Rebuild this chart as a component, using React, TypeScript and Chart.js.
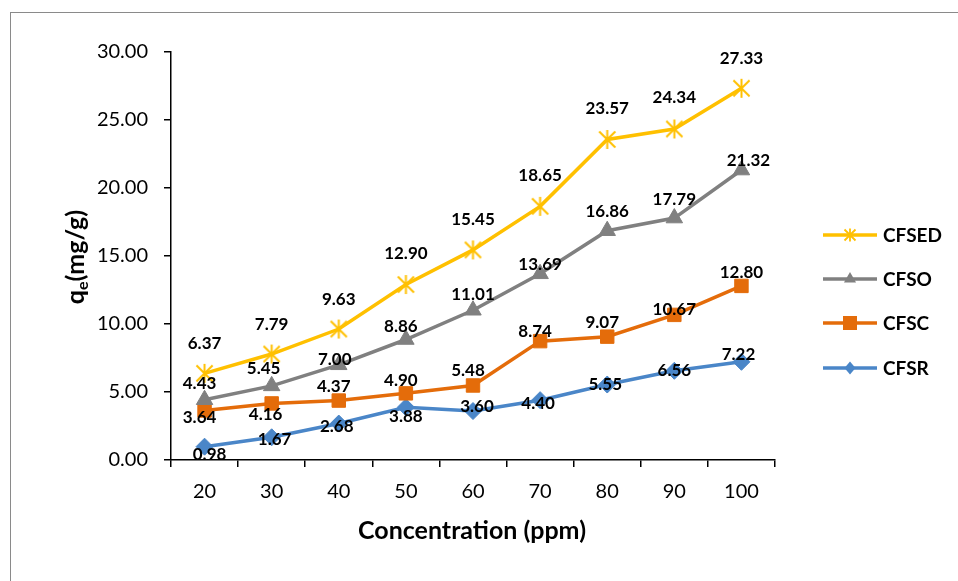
import React, { useEffect, useRef } from 'react';
import { Chart, registerables } from 'chart.js';

Chart.register(...registerables);

// ---- data ----
const categories = ['20', '30', '40', '50', '60', '70', '80', '90', '100'];
const seriesNames = ['CFSED', 'CFSO', 'CFSC', 'CFSR'];
const cfsed = [6.37, 7.79, 9.63, 12.9, 15.45, 18.65, 23.57, 24.34, 27.33];
const cfso = [4.43, 5.45, 7.0, 8.86, 11.01, 13.69, 16.86, 17.79, 21.32];
const cfsc = [3.64, 4.16, 4.37, 4.9, 5.48, 8.74, 9.07, 10.67, 12.8];
const cfsr = [0.98, 1.67, 2.68, 3.88, 3.6, 4.4, 5.55, 6.56, 7.22];
const yMin = 0;
const yMax = 30;
const yStep = 5;

// ---- styling ----
const colors = ['#FFC000', '#808080', '#E46C0A', '#4A86C8'];
const FONT = 'Lato, "Open Sans", sans-serif';

// label offsets (dx, dy) relative to each point
const offED = [[0, -30], [0, -30], [0, -30], [0, -31], [0, -30], [0, -31], [0, -31], [0, -31], [0, -30]];
const offSO = [[-5, -16], [-8, -17], [-4, -5], [-5, -13], [0, -16], [0, -9], [0, -19], [0, -19], [7, -10]];
const offSC = [[-5, 7], [-6, 11], [-5, -14], [-5, -13], [-5, -15], [-5, -10], [-5, -14], [0, -5], [0, -13]];
const offSR = [[5, 8], [3, 2], [-2, 3], [0, 9], [4, -5], [-2, 3], [-2, 0], [0, 0], [-3, -7]];
const labelOffsets = [offED, offSO, offSC, offSR];

function makeStar(size: number, color: string, lw: number): HTMLCanvasElement {
  const c = document.createElement('canvas');
  c.width = size;
  c.height = size;
  const ctx = c.getContext('2d')!;
  ctx.strokeStyle = color;
  ctx.lineWidth = lw;
  ctx.lineCap = 'butt';
  const m = size / 2;
  const h = size / 2 - 1;
  ctx.beginPath();
  ctx.moveTo(m, m - h);
  ctx.lineTo(m, m + h);
  const d = h * 0.85;
  ctx.moveTo(m - d, m - d);
  ctx.lineTo(m + d, m + d);
  ctx.moveTo(m + d, m - d);
  ctx.lineTo(m - d, m + d);
  ctx.stroke();
  return c;
}

function drawMarker(ctx: CanvasRenderingContext2D, kind: number, x: number, y: number, color: string) {
  ctx.save();
  ctx.fillStyle = color;
  ctx.strokeStyle = color;
  if (kind === 0) {
    ctx.lineWidth = 1.8;
    const h = 6.5;
    const d = 5.5;
    ctx.beginPath();
    ctx.moveTo(x, y - h);
    ctx.lineTo(x, y + h);
    ctx.moveTo(x - d, y - d);
    ctx.lineTo(x + d, y + d);
    ctx.moveTo(x + d, y - d);
    ctx.lineTo(x - d, y + d);
    ctx.stroke();
  } else if (kind === 1) {
    const r = 7;
    ctx.beginPath();
    ctx.moveTo(x, y - r);
    ctx.lineTo(x + r * 0.866, y + r * 0.5);
    ctx.lineTo(x - r * 0.866, y + r * 0.5);
    ctx.closePath();
    ctx.fill();
  } else if (kind === 2) {
    ctx.fillRect(x - 7, y - 7, 14, 14);
  } else {
    ctx.beginPath();
    ctx.moveTo(x, y - 6.5);
    ctx.lineTo(x + 5.5, y);
    ctx.lineTo(x, y + 6.5);
    ctx.lineTo(x - 5.5, y);
    ctx.closePath();
    ctx.fill();
  }
  ctx.restore();
}

const decorPlugin = {
  id: 'decor',
  beforeDraw(chart: any) {
    const ctx = chart.ctx as CanvasRenderingContext2D;
    ctx.save();
    ctx.fillStyle = '#ffffff';
    ctx.fillRect(0, 0, chart.width, chart.height);
    ctx.strokeStyle = '#8a8a8a';
    ctx.lineWidth = 1;
    ctx.strokeRect(10.5, 12.5, 3000, 3000);
    ctx.restore();
  },
  afterDatasetsDraw(chart: any) {
    const ctx = chart.ctx as CanvasRenderingContext2D;
    ctx.save();
    ctx.fillStyle = '#000';
    ctx.font = `bold 17px ${FONT}`;
    ctx.textAlign = 'center';
    ctx.textBaseline = 'middle';
    chart.data.datasets.forEach((ds: any, di: number) => {
      const meta = chart.getDatasetMeta(di);
      meta.data.forEach((pt: any, i: number) => {
        const v = ds.data[i] as number;
        const off = labelOffsets[di][i];
        ctx.fillText(v.toFixed(2), pt.x + off[0], pt.y + off[1]);
      });
    });
    ctx.restore();
  },
  afterDraw(chart: any) {
    const ctx = chart.ctx as CanvasRenderingContext2D;
    const area = chart.chartArea;
    ctx.save();
    ctx.fillStyle = '#000';
    // x title
    ctx.font = `bold 25px ${FONT}`;
    ctx.textAlign = 'center';
    ctx.textBaseline = 'middle';
    ctx.fillText('Concentration (ppm)', 472, 531);
    // y title with subscript
    ctx.save();
    ctx.translate(76, 257);
    ctx.rotate(-Math.PI / 2);
    const big = `bold 25px ${FONT}`;
    const small = `bold 16px ${FONT}`;
    ctx.font = big;
    const wq = ctx.measureText('q').width;
    const wr = ctx.measureText('(mg/g)').width;
    ctx.font = small;
    const we = ctx.measureText('e').width;
    const total = wq + we + wr;
    let x = -total / 2;
    ctx.textAlign = 'left';
    ctx.textBaseline = 'alphabetic';
    ctx.font = big;
    ctx.fillText('q', x, 8);
    x += wq;
    ctx.font = small;
    ctx.fillText('e', x, 12);
    x += we;
    ctx.font = big;
    ctx.fillText('(mg/g)', x, 8);
    ctx.restore();
    // legend
    const ly = [235, 279, 323, 368];
    chart.data.datasets.forEach((ds: any, di: number) => {
      const y = ly[di];
      ctx.strokeStyle = ds.borderColor;
      ctx.lineWidth = 3.5;
      ctx.beginPath();
      ctx.moveTo(823, y);
      ctx.lineTo(877, y);
      ctx.stroke();
      drawMarker(ctx, di, 850, y, ds.borderColor);
      ctx.fillStyle = '#000';
      ctx.font = `bold 19px ${FONT}`;
      ctx.textAlign = 'left';
      ctx.textBaseline = 'middle';
      ctx.fillText(ds.label, 883, y + 1);
    });
    ctx.restore();
  },
};

export default function App() {
  const ref = useRef<HTMLCanvasElement | null>(null);
  useEffect(() => {
    document.body.style.margin = '0';
    const canvas = ref.current!;
    const star = makeStar(21, colors[0], 2);
    const series = [cfsed, cfso, cfsc, cfsr];
    const styles: any[] = [star, 'triangle', 'rect', 'rectRot'];
    const radii = [10, 9.5, 9.5, 8.5];
    const chart = new Chart(canvas, {
      type: 'line',
      data: {
        labels: categories,
        datasets: series.map((d, i) => ({
          label: seriesNames[i],
          data: d,
          borderColor: colors[i],
          backgroundColor: colors[i],
          borderWidth: 3.5,
          pointStyle: styles[i],
          pointRadius: radii[i],
          pointHoverRadius: radii[i],
          pointBackgroundColor: colors[i],
          pointBorderColor: colors[i],
          pointBorderWidth: 1,
          tension: 0,
          fill: false,
        })),
      },
      options: {
        responsive: false,
        animation: false,
        events: [],
        layout: { padding: { top: 52, right: 183, left: 0, bottom: 0 } },
        plugins: {
          legend: { display: false },
          tooltip: { enabled: false },
          title: { display: false },
        },
        scales: {
          x: {
            type: 'category',
            offset: true,
            grid: {
              display: true,
              drawOnChartArea: false,
              drawTicks: true,
              tickLength: 7,
              color: '#000',
              lineWidth: 1.5,
              offset: true,
            },
            border: { display: true, color: '#000', width: 1.5 },
            ticks: {
              color: '#000',
              font: { family: FONT, size: 20 },
              padding: 13,
              maxRotation: 0,
              autoSkip: false,
            },
            afterFit: (s: any) => {
              s.height = 121;
            },
          },
          y: {
            min: yMin,
            max: yMax,
            grid: {
              display: true,
              drawOnChartArea: false,
              drawTicks: true,
              tickLength: 7,
              color: '#000',
              lineWidth: 1.5,
            },
            border: { display: true, color: '#000', width: 1.5 },
            ticks: {
              stepSize: yStep,
              color: '#000',
              font: { family: FONT, size: 20 },
              padding: 16,
              callback: (v: any) => Number(v).toFixed(2),
            },
            afterFit: (s: any) => {
              s.width = 171;
            },
          },
        },
      } as any,
      plugins: [decorPlugin],
    });
    return () => chart.destroy();
  }, []);
  return <canvas ref={ref} width={958} height={581} style={{ display: 'block', width: 958, height: 581 }} />;
}
